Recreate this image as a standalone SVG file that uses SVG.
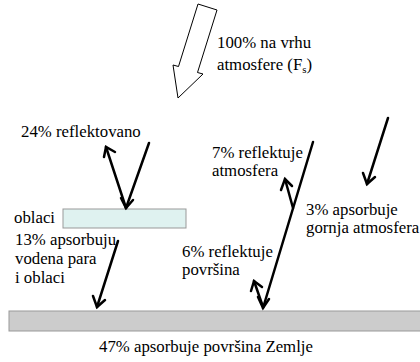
<svg xmlns="http://www.w3.org/2000/svg" width="420" height="362" viewBox="0 0 420 362">
<style>
.ln{stroke:#000;stroke-width:2.5;fill:none;stroke-linecap:round}
.hd{stroke:#000;stroke-width:2.5;fill:none;stroke-linecap:round;stroke-linejoin:miter}
</style>
<rect width="420" height="362" fill="#fff"/>
<g id="ground"><rect x="9" y="311" width="415" height="20" fill="#cccccc" stroke="#999999" stroke-width="1"/></g>
<g id="clouds"><rect x="63" y="209" width="123" height="19" fill="#dff2f0" stroke="#999999" stroke-width="1"/></g>
<g id="incoming"><polygon points="198,4 217,10 197.5,72.5 203,74 178,98 173,65 178.5,66.5" fill="#fff" stroke="#000" stroke-width="1"/></g>
<g id="connectors">
<line class="ln" x1="149" y1="143" x2="126" y2="208"/>
<polyline class="hd" points="121,198 126,208 133,200"/>
<line class="ln" x1="126" y1="208" x2="106" y2="147"/>
<polyline class="hd" points="104,157 106,147 115,152"/>
<line class="ln" x1="313" y1="142" x2="263" y2="308"/>
<polyline class="hd" points="258,297 263,308 269,299"/>
<line class="ln" x1="293" y1="208" x2="285" y2="179"/>
<polyline class="hd" points="281,190 285,179 292,186"/>
<line class="ln" x1="262" y1="304" x2="254" y2="281"/>
<polyline class="hd" points="251,291 254,281 262,287"/>
<line class="ln" x1="388" y1="118" x2="367" y2="184"/>
<polyline class="hd" points="363,173 367,184 375,177"/>
<line class="ln" x1="118" y1="241" x2="97" y2="307"/>
<polyline class="hd" points="93,296 97,307 105,300"/>
</g>
<g id="labels" font-family="Liberation Serif" font-size="16.8" fill="#000">
<text x="217" y="48">100% na vrhu</text>
<text x="217" y="70">atmosfere (F<tspan font-size="11" dy="3">s</tspan><tspan dy="-3">)</tspan></text>
<text x="21" y="137">24% reflektovano</text>
<text x="14" y="223">oblaci</text>
<text x="15" y="245">13% apsorbuju</text>
<text x="15" y="264">vodena para</text>
<text x="15" y="283">i oblaci</text>
<text x="212" y="158">7% reflektuje</text>
<text x="212" y="176">atmosfera</text>
<text x="306" y="215">3% apsorbuje</text>
<text x="306" y="233">gornja atmosfera</text>
<text x="182" y="257">6% reflektuje</text>
<text x="182" y="275">površina</text>
<text x="99" y="352">47% apsorbuje površina Zemlje</text>
</g>
</svg>
